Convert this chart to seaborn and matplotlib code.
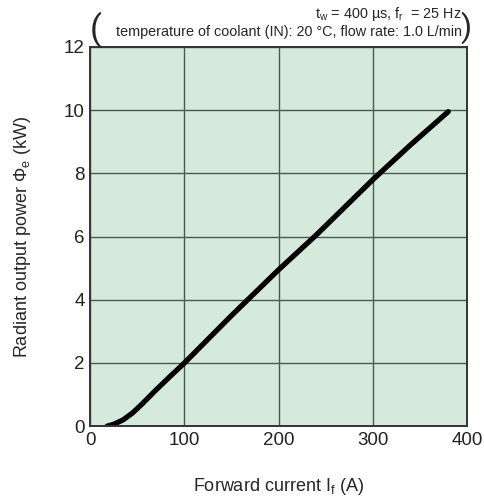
import matplotlib
matplotlib.use("Agg")
import matplotlib.pyplot as plt
import seaborn as sns
import pandas as pd

# forward current (A) vs radiant output power (kW)
current = [18, 25, 35, 45, 55, 70, 85, 100, 150, 200, 240, 300, 340, 380]
power = [0.0, 0.06, 0.2, 0.42, 0.7, 1.15, 1.58, 2.0, 3.5, 4.95, 6.05, 7.8, 8.9, 9.95]
xticks = [0, 100, 200, 300, 400]
yticks = [0, 2, 4, 6, 8, 10, 12]


def main():
	sns.set_style("white")
	plt.rcParams["font.family"] = ["Liberation Sans", "DejaVu Sans"]
	plt.rcParams["mathtext.fontset"] = "custom"
	plt.rcParams["mathtext.rm"] = "Liberation Sans"
	plt.rcParams["mathtext.it"] = "Liberation Sans"

	data = pd.DataFrame({"current": current, "power": power})
	fig = plt.figure(figsize=(4.85, 4.99), dpi=100)
	ax = fig.add_axes([0.186, 0.146, 0.777, 0.760])
	ax.set_facecolor("#d6eadc")
	sns.lineplot(data=data, x="current", y="power", ax=ax, color="black", linewidth=3.8)

	ax.set_xlim(0, 400)
	ax.set_ylim(0, 12)
	ax.set_xticks(xticks)
	ax.set_yticks(yticks)
	ax.tick_params(length=0, labelsize=13.5, colors="#222222", pad=4)
	ax.grid(True, color="#4a5a50", linewidth=1.0)
	ax.set_axisbelow(True)
	for s in ax.spines.values():
		s.set_color("#333333")
		s.set_linewidth(1.4)

	ax.set_xlabel(r"Forward current I$_\mathrm{f}$ (A)", fontsize=13, labelpad=20)
	ax.set_ylabel(r"Radiant output power $\Phi_\mathrm{e}$ (kW)", fontsize=13, labelpad=22)

	# condition note above the plot, wrapped in large parentheses
	fig.text(0.952, 0.972, r"t$_\mathrm{w}$ = 400 µs, f$_\mathrm{r}$  = 25 Hz",
		ha="right", va="center", fontsize=10.4)
	fig.text(0.952, 0.936, "temperature of coolant (IN): 20 °C, flow rate: 1.0 L/min",
		ha="right", va="center", fontsize=10.4)
	fig.text(0.198, 0.94, "(", ha="center", va="center", fontsize=25,
		family=["Roboto", "Liberation Sans"])
	fig.text(0.961, 0.944, ")", ha="center", va="center", fontsize=23,
		family=["Roboto", "Liberation Sans"])

	plt.savefig("out.png", dpi=100)
	plt.close()
	return 0


if "__main__" == __name__:
	main()
